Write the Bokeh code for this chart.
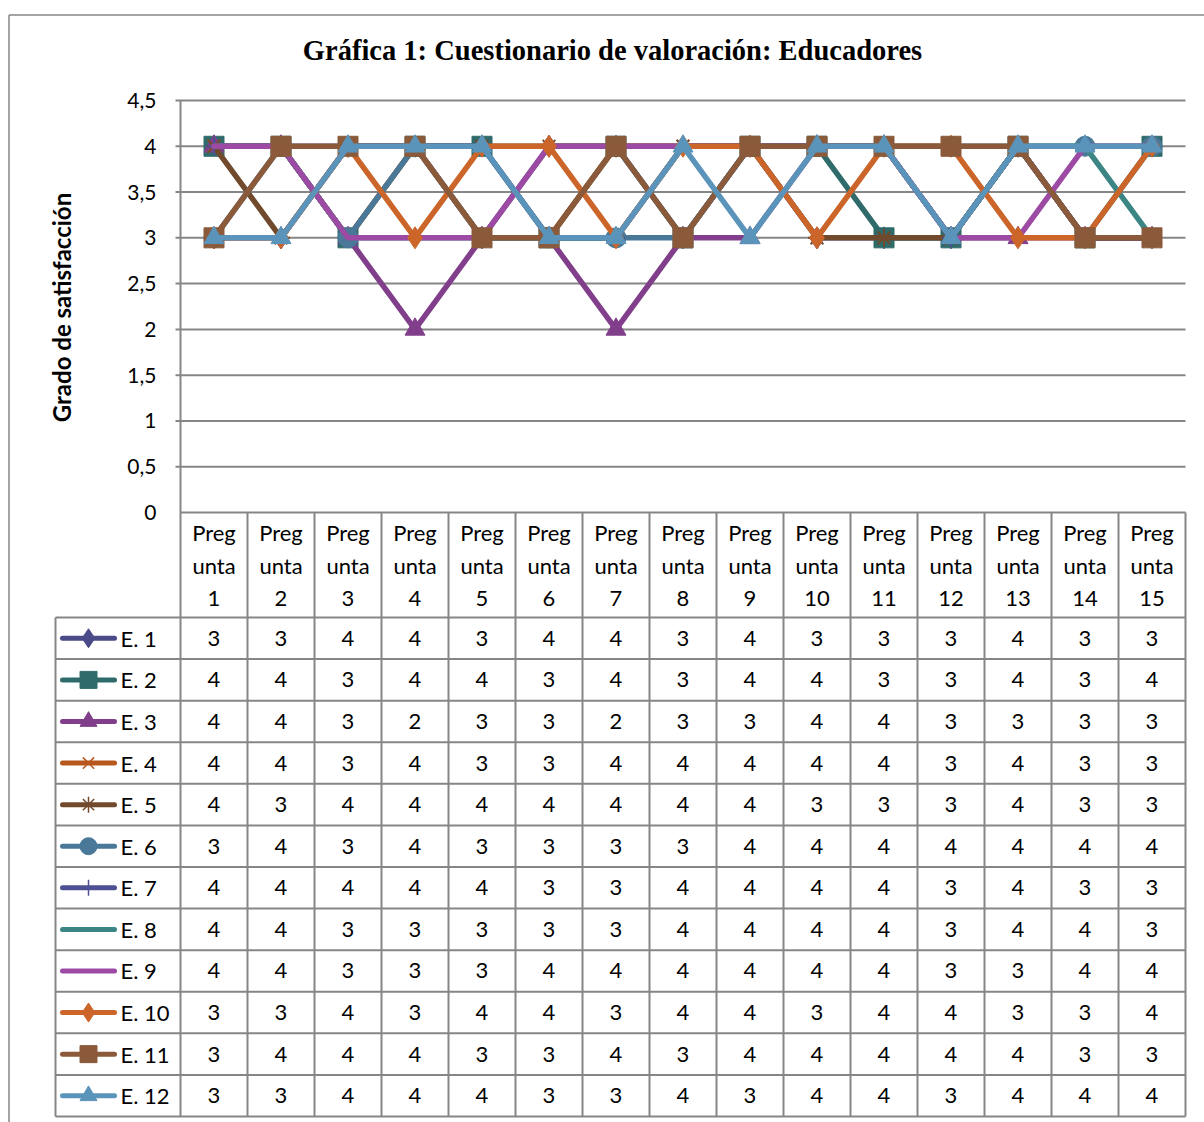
import math
from bokeh.plotting import figure
from bokeh.core.properties import value
from bokeh.embed import file_html
from bokeh.resources import INLINE

# ---------------- data ----------------
question_numbers = list(range(1, 16))
header_line1 = ["Preg"] * 15
header_line2 = ["unta"] * 15
header_line3 = [str(i) for i in question_numbers]

educators = ["E. 1", "E. 2", "E. 3", "E. 4", "E. 5", "E. 6",
             "E. 7", "E. 8", "E. 9", "E. 10", "E. 11", "E. 12"]

e1 = [3, 3, 4, 4, 3, 4, 4, 3, 4, 3, 3, 3, 4, 3, 3]
e2 = [4, 4, 3, 4, 4, 3, 4, 3, 4, 4, 3, 3, 4, 3, 4]
e3 = [4, 4, 3, 2, 3, 3, 2, 3, 3, 4, 4, 3, 3, 3, 3]
e4 = [4, 4, 3, 4, 3, 3, 4, 4, 4, 4, 4, 3, 4, 3, 3]
e5 = [4, 3, 4, 4, 4, 4, 4, 4, 4, 3, 3, 3, 4, 3, 3]
e6 = [3, 4, 3, 4, 3, 3, 3, 3, 4, 4, 4, 4, 4, 4, 4]
e7 = [4, 4, 4, 4, 4, 3, 3, 4, 4, 4, 4, 3, 4, 3, 3]
e8 = [4, 4, 3, 3, 3, 3, 3, 4, 4, 4, 4, 3, 4, 4, 3]
e9 = [4, 4, 3, 3, 3, 4, 4, 4, 4, 4, 4, 3, 3, 4, 4]
e10 = [3, 3, 4, 3, 4, 4, 3, 4, 4, 3, 4, 4, 3, 3, 4]
e11 = [3, 4, 4, 4, 3, 3, 4, 3, 4, 4, 4, 4, 4, 3, 3]
e12 = [3, 3, 4, 4, 4, 3, 3, 4, 3, 4, 4, 3, 4, 4, 4]
series = [e1, e2, e3, e4, e5, e6, e7, e8, e9, e10, e11, e12]

y_ticks = [0, 0.5, 1, 1.5, 2, 2.5, 3, 3.5, 4, 4.5]
y_tick_labels = ["0", "0,5", "1", "1,5", "2", "2,5", "3", "3,5", "4", "4,5"]

colors = ["#4A4A88", "#2F6B6B", "#813F8B", "#B8581F", "#714A2D", "#4A7898",
          "#4F4F94", "#3C8585", "#9C4AA3", "#CC652A", "#8B5A3A", "#5B94BA"]
markers = ["diamond", "square", "triangle", "x", "asterisk", "circle",
           "cross", None, None, "diamond", "square", "triangle"]

title_text = "Gráfica 1: Cuestionario de valoración: Educadores"
y_title = "Grado de satisfacción"

# ---------------- layout (pixels) ----------------
W, H = 1204, 1122
PL, PR, PT, PB = 180, 1185, 100, 512
n = len(question_numbers)
colw = (PR - PL) / n
ymax = 4.5
ppu = (PB - PT) / ymax

x_start = 0.5 - PL / colw
x_end = x_start + W / colw
y_end = ymax + PT / ppu
y_start = y_end - H / ppu


def X(px):
    return x_start + px / colw


def Y(py):
    return y_end - py / ppu


FONT = value("Lato")
GRID = "#868686"
TXT = "22px"

p = figure(width=W, height=H, x_range=(x_start, x_end), y_range=(y_start, y_end),
           min_border=0, toolbar_location=None, output_backend="svg",
           x_axis_location=None, y_axis_location=None)
p.grid.visible = False
p.outline_line_color = None
p.background_fill_color = "white"
p.border_fill_color = "white"

# outer chart border
p.segment(x0=[X(8.5), X(8.5)], y0=[Y(14.5), Y(14.5)], x1=[X(8.5), X(1204)], y1=[Y(1122), Y(14.5)],
          line_color=GRID, line_width=1.5)

# gridlines + tick marks
gy = [t for t in y_ticks if t > 0]
p.segment(x0=[X(PL - 5)] * len(gy), y0=gy, x1=[X(PR)] * len(gy), y1=gy,
          line_color=GRID, line_width=2)

# table geometry
TAB_LEFT = 55
HEAD_BOTTOM = 617
TAB_BOTTOM = 1116
nrows = len(educators)
rowh = (TAB_BOTTOM - HEAD_BOTTOM) / nrows
row_py = [HEAD_BOTTOM + rowh * (i + 0.5) for i in range(nrows)]
row_y = [Y(v) for v in row_py]

# horizontal table lines
hx0, hy0, hx1, hy1 = [], [], [], []
hx0.append(X(PL)); hx1.append(X(PR)); hy0.append(0); hy1.append(0)
for k in range(nrows + 1):
    yy = Y(HEAD_BOTTOM + rowh * k)
    hx0.append(X(TAB_LEFT)); hx1.append(X(PR)); hy0.append(yy); hy1.append(yy)
p.segment(x0=hx0, y0=hy0, x1=hx1, y1=hy1, line_color=GRID, line_width=2)

# vertical table lines
vx, vy0, vy1 = [], [], []
vx.append(X(TAB_LEFT)); vy0.append(Y(HEAD_BOTTOM)); vy1.append(Y(TAB_BOTTOM))
vx.append(X(PL)); vy0.append(ymax); vy1.append(Y(TAB_BOTTOM))
for k in range(1, n + 1):
    vx.append(k + 0.5); vy0.append(0); vy1.append(Y(TAB_BOTTOM))
p.segment(x0=vx, y0=vy0, x1=vx, y1=vy1, line_color=GRID, line_width=2)

# series lines and markers
for s, c, m in zip(series, colors, markers):
    p.line(question_numbers, s, line_color=c, line_width=5.5, line_join="round", line_cap="round")
    if m is not None:
        if m in ("x", "asterisk", "cross"):
            p.scatter(question_numbers, s, marker=m, size=18, line_color=c, line_width=2)
        elif m == "diamond":
            p.scatter(question_numbers, s, marker=m, size=22, fill_color=c, line_color=c)
        else:
            p.scatter(question_numbers, s, marker=m, size=20, fill_color=c, line_color=c)

# y tick labels
p.text(x=[X(156)] * len(y_ticks), y=y_ticks, text=y_tick_labels, text_font=FONT,
       text_font_size="21px", text_align="right", text_baseline="middle", text_color="black")

# y axis title
p.text(x=[X(61)], y=[Y(307)], text=[y_title], angle=math.pi / 2, text_font=FONT,
       text_font_size="24px", text_font_style="bold", text_align="center",
       text_baseline="middle", text_color="black")

# title
p.text(x=[X(612)], y=[Y(50)], text=[title_text], text_font=value("Liberation Serif"),
       text_font_size="28.5px", text_font_style="bold", text_align="center",
       text_baseline="middle", text_color="black")

# header cells
for lines, py in ((header_line1, 532), (header_line2, 565), (header_line3, 598)):
    p.text(x=question_numbers, y=[Y(py)] * n, text=lines, text_font=FONT,
           text_font_size=TXT, text_align="center", text_baseline="middle", text_color="black")

# legend keys + names
for i, (name, c, m) in enumerate(zip(educators, colors, markers)):
    yy = row_y[i]
    p.segment(x0=[X(62)], y0=[yy], x1=[X(114)], y1=[yy], line_color=c, line_width=5, line_cap="round")
    if m is not None:
        if m in ("x", "asterisk", "cross"):
            p.scatter([X(88)], [yy], marker=m, size=16, line_color=c, line_width=1.5)
        elif m == "diamond":
            p.scatter([X(88)], [yy], marker=m, size=19, fill_color=c, line_color=c)
        else:
            p.scatter([X(88)], [yy], marker=m, size=17, fill_color=c, line_color=c)
    p.text(x=[X(120)], y=[yy], text=[name], text_font=FONT, text_font_size=TXT,
           text_align="left", text_baseline="middle", text_color="black")

# table values
for i, s in enumerate(series):
    p.text(x=question_numbers, y=[row_y[i]] * n, text=[str(v) for v in s], text_font=FONT,
           text_font_size=TXT, text_align="center", text_baseline="middle", text_color="black")

open("out.html", "w").write(file_html(p, INLINE))
